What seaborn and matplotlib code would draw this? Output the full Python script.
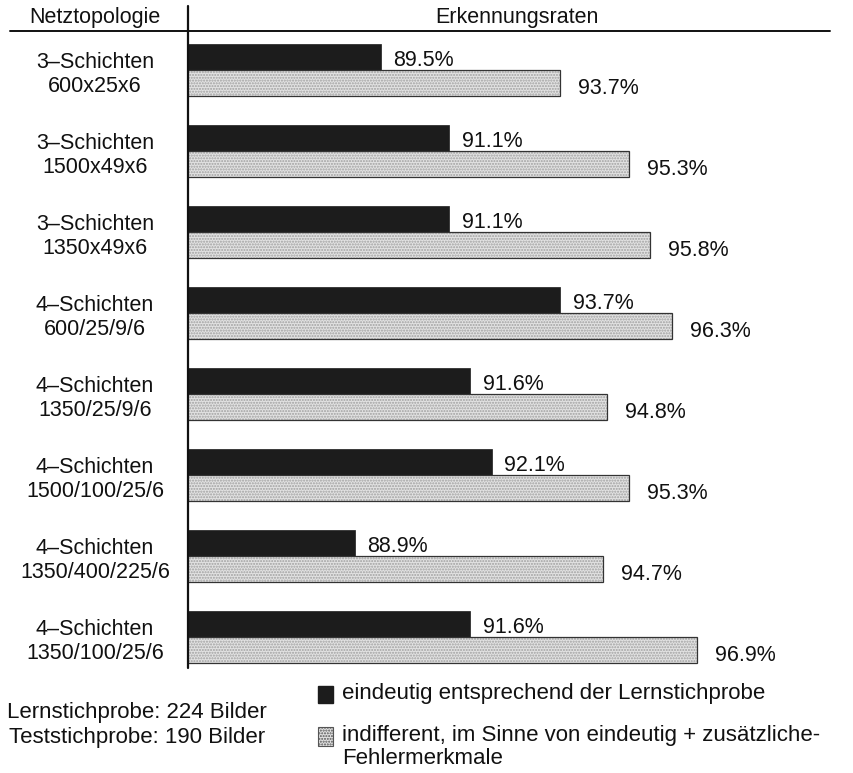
import matplotlib
matplotlib.use("Agg")
import matplotlib.pyplot as plt
from matplotlib.lines import Line2D
from matplotlib.patches import Rectangle
import seaborn as sns
import pandas as pd

# Network topologies (two-line labels) and recognition rates in percent
topologien = [
    "3\u2013Schichten\n600x25x6",
    "3\u2013Schichten\n1500x49x6",
    "3\u2013Schichten\n1350x49x6",
    "4\u2013Schichten\n600/25/9/6",
    "4\u2013Schichten\n1350/25/9/6",
    "4\u2013Schichten\n1500/100/25/6",
    "4\u2013Schichten\n1350/400/225/6",
    "4\u2013Schichten\n1350/100/25/6",
]
eindeutig = [89.5, 91.1, 91.1, 93.7, 91.6, 92.1, 88.9, 91.6]
indifferent = [93.7, 95.3, 95.8, 96.3, 94.8, 95.3, 94.7, 96.9]
serien = ["eindeutig", "indifferent"]

legende_texte = [
    "eindeutig entsprechend der Lernstichprobe",
    "indifferent, im Sinne von eindeutig + zus\u00e4tzliche-\nFehlermerkmale",
]
stichprobe_text = "Lernstichprobe: 224 Bilder\nTeststichprobe: 190 Bilder"

df = pd.DataFrame({
    "Netztopologie": topologien * 2,
    "Rate": eindeutig + indifferent,
    "Art": [serien[0]] * len(topologien) + [serien[1]] * len(topologien),
})

sns.set_theme(style="white")
plt.rcParams["font.family"] = ["Liberation Sans", "DejaVu Sans"]

W, H = 854, 773
fig = plt.figure(figsize=(W / 100, H / 100), dpi=100)


def fx(px):
    return px / W


def fy(py):
    return 1 - py / H


FS = 15.5
TXT = "#111111"

ax = fig.add_axes([fx(188), fy(668), fx(830) - fx(188), fy(31) - fy(668)])

dark = "#1c1c1c"
light = "#e2e2e2"
sns.barplot(data=df, y="Netztopologie", x="Rate", hue="Art",
            hue_order=serien, order=topologien, orient="h",
            palette=[dark, light], width=0.64, dodge=True,
            saturation=1, gap=0, ax=ax, legend=False)

ax.set_xlim(85, 100)
ax.set_ylim(len(topologien) - 1 + 0.383, -0.481)

# Styling: dark bars solid, light bars stippled with a thin outline
for cont, art in zip(ax.containers, serien):
    for bar in cont:
        if art == "indifferent":
            bar.set_facecolor(light)
            bar.set_edgecolor("#a0a0a0")
            bar.set_hatch("......")
            bar.set_linewidth(0)
            outline = Rectangle(bar.get_xy(), bar.get_width(), bar.get_height(),
                                fill=False, edgecolor="#333333", linewidth=0.9)
            ax.add_patch(outline)
        else:
            bar.set_facecolor(dark)
            bar.set_edgecolor(dark)
            bar.set_linewidth(0.5)

# Value labels next to each bar
for cont, art in zip(ax.containers, serien):
    pad = 9 if art == "eindeutig" else 13
    dy = 0.04 if art == "eindeutig" else 0.07
    for bar in cont:
        val = bar.get_x() + bar.get_width()
        yc = bar.get_y() + bar.get_height() / 2
        ax.annotate(f"{val:.1f}%", xy=(val, yc + dy), xytext=(pad, 0),
                    textcoords="offset points", ha="left", va="center",
                    fontsize=FS, color=TXT)

ax.set_xticks([])
ax.set_xlabel("")
ax.set_ylabel("")
ax.tick_params(axis="y", length=0, pad=0)
ax.set_yticklabels([])
for s in ax.spines.values():
    s.set_visible(False)

# Row labels, centered in the left column, a little below the group center
for i, t in enumerate(topologien):
    y_disp = ax.transData.transform((90, i + 0.06))[1]
    fig.text(fx(95), y_disp / fig.dpi / fig.get_figheight(), t,
             ha="center", va="center", fontsize=FS, linespacing=1.2,
             color=TXT)

# Table frame lines
fig.add_artist(Line2D([fx(10), fx(830)], [fy(31), fy(31)], color=TXT, lw=1.4))
fig.add_artist(Line2D([fx(188), fx(188)], [fy(6), fy(668)], color=TXT, lw=1.6))

# Header
fig.text(fx(95), fy(17), "Netztopologie", ha="center", va="center",
         fontsize=FS, color=TXT)
fig.text(fx(517), fy(17), "Erkennungsraten", ha="center", va="center",
         fontsize=FS, color=TXT)

# Sample sizes
fig.text(fx(137), fy(725), stichprobe_text, ha="center", va="center",
         fontsize=16, linespacing=1.2, color=TXT)

# Legend
fig.add_artist(Rectangle((fx(318), fy(703)), fx(15), fy(686) - fy(703),
                         transform=fig.transFigure, facecolor=dark, edgecolor=dark))
fig.add_artist(Rectangle((fx(318), fy(746)), fx(15), fy(727) - fy(746),
                         transform=fig.transFigure, facecolor=light,
                         edgecolor="#555555", lw=0.8, hatch="......"))
fig.text(fx(342), fy(694), legende_texte[0], ha="left", va="center",
         fontsize=16, color=TXT)
fig.text(fx(342), fy(725), legende_texte[1], ha="left", va="top",
         fontsize=16, linespacing=1.15, color=TXT)

fig.savefig("out.png", dpi=100)
